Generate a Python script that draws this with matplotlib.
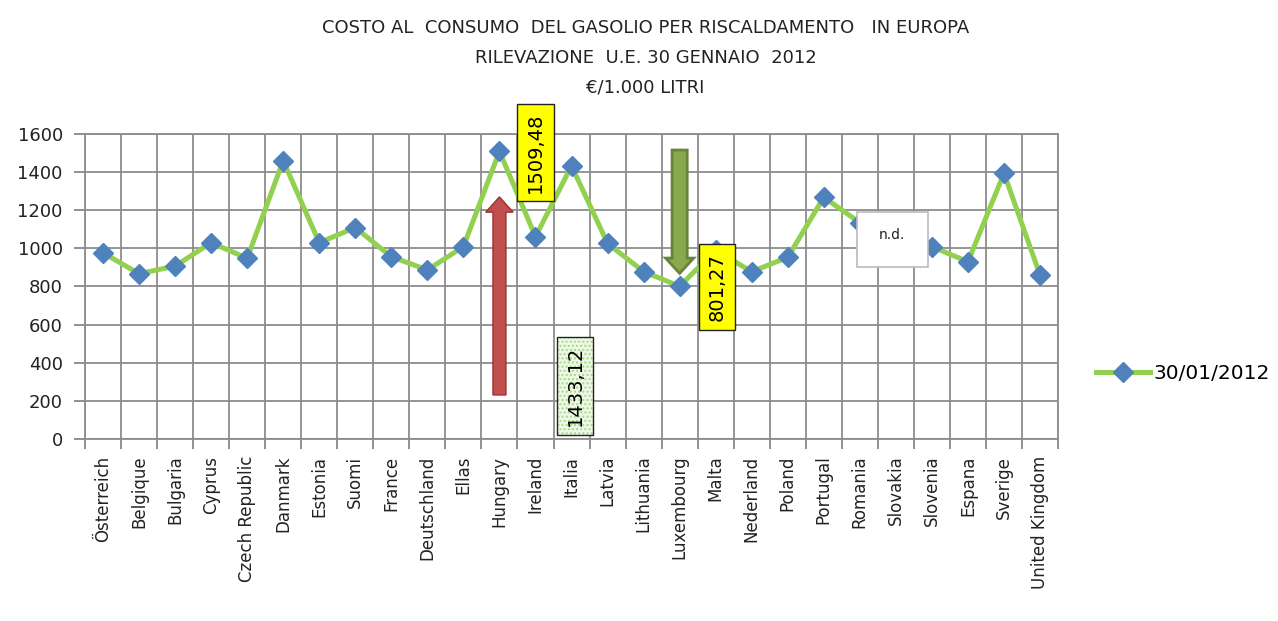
import numpy as np
import matplotlib.pyplot as plt
from matplotlib.patches import FancyArrow, Rectangle

# data
countries = ['Österreich', 'Belgique', 'Bulgaria', 'Cyprus', 'Czech Republic',
             'Danmark', 'Estonia', 'Suomi', 'France', 'Deutschland', 'Ellas',
             'Hungary', 'Ireland', 'Italia', 'Latvia', 'Lithuania', 'Luxembourg',
             'Malta', 'Nederland', 'Poland', 'Portugal', 'Romania', 'Slovakia',
             'Slovenia', 'Espana', 'Sverige', 'United Kingdom']
prices = [977, 867, 907, 1030, 948, 1460, 1030, 1109, 956, 887, 1009,
          1509.48, 1061, 1433.12, 1026, 878, 801.27, 990, 878, 953, 1268,
          1135, np.nan, 1009, 930, 1394, 860]
series_label = '30/01/2012'
title_lines = ['COSTO AL  CONSUMO  DEL GASOLIO PER RISCALDAMENTO   IN EUROPA',
               'RILEVAZIONE  U.E. 30 GENNAIO  2012',
               '€/1.000 LITRI']

fig = plt.figure(figsize=(12.78, 6.21), dpi=100)
ax = fig.add_axes([0.0665, 0.2931, 0.7614, 0.4911])

x = np.arange(len(countries))
ax.plot(x, prices, color='#92D050', lw=3.6, marker='D', markersize=10,
        markerfacecolor='#4F81BD', markeredgecolor='#4F81BD', label=series_label,
        zorder=3)

ax.set_xlim(-0.5, len(countries) - 0.5)
ax.set_ylim(0, 1600)
ax.set_yticks(range(0, 1601, 200))
ax.set_xticks(np.arange(len(countries) + 1) - 0.5, minor=False)
ax.set_xticklabels([])
ax.set_xticks(x, minor=True)
ax.set_xticklabels(countries, minor=True, rotation=90, fontsize=12,
                   color='#222222')
ax.tick_params(axis='x', which='minor', length=0, pad=12)
ax.tick_params(axis='x', which='major', length=7, color='#888888', width=1.3)
ax.tick_params(axis='y', length=8, color='#888888', width=1.3, labelsize=13,
               labelcolor='#222222', pad=8)
ax.grid(True, which='major', color='#8c8c8c', lw=1.3)
for s in ax.spines.values():
    s.set_color('#8c8c8c')
    s.set_linewidth(1.3)
ax.set_axisbelow(True)

# title
for i, t in enumerate(title_lines):
    fig.text(0.505, 0.955 - i * 0.048, t, ha='center', va='center',
             fontsize=13, color='#222222')

# arrows
ax.add_patch(FancyArrow(11, 231, 0, 1039, width=0.36, head_width=0.76,
                        head_length=80, length_includes_head=True,
                        facecolor='#C0504D', edgecolor='#9A3330', lw=1,
                        zorder=4))
ax.add_patch(FancyArrow(16, 1516, 0, -647, width=0.42, head_width=0.78,
                        head_length=80, length_includes_head=True,
                        facecolor='#8AA84E', edgecolor='#68833A', lw=2,
                        zorder=4))

# value boxes
box_kw = dict(rotation=90, ha='center', va='center', fontsize=14, zorder=6)
ax.text(12.0, 1503, '1509,48', clip_on=False,
        bbox=dict(boxstyle='square,pad=0.45', fc='yellow', ec='#222222', lw=1),
        **box_kw)
ax.text(13.1, 278, '1433,12',
        bbox=dict(boxstyle='square,pad=0.45', fc='#EEF8E6', ec='#A6D88A',
                  lw=0, hatch='....'), **box_kw)
ax.text(13.1, 278, '1433,12', color='none',
        bbox=dict(boxstyle='square,pad=0.45', fc='none', ec='#222222', lw=1),
        **box_kw)
ax.text(17.04, 797, '801,27',
        bbox=dict(boxstyle='square,pad=0.45', fc='yellow', ec='#222222', lw=1),
        **box_kw)

# n.d. box over Slovakia
ax.add_patch(Rectangle((21.9 - 0.985, 1047 - 144), 1.97, 288, fc='white',
                       ec='#bbbbbb', lw=1.2, zorder=6))
ax.text(21.9, 1070, 'n.d.', ha='center', va='center', fontsize=10,
        color='#222222', zorder=7)

leg = ax.legend(loc='center left', bbox_to_anchor=(1.039, 0.216),
                frameon=False, fontsize=14.5, handlelength=2.7,
                handletextpad=0.15, borderaxespad=0, borderpad=0)

plt.savefig('out.png', dpi=100)
